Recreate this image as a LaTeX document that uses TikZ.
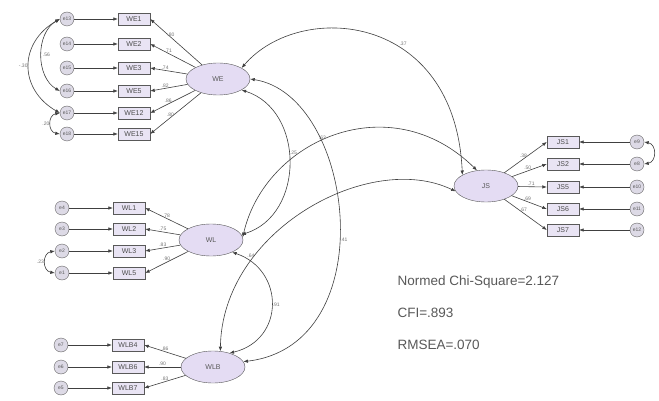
\documentclass[tikz,border=0pt]{standalone}
\usepackage{fontspec}
\setmainfont{Liberation Sans}
\usetikzlibrary{shapes.geometric,arrows.meta}

\definecolor{latfill}{HTML}{E4DCF3}
\definecolor{indfill}{HTML}{E9E4F4}
\definecolor{errfill}{HTML}{DDDAE6}

\begin{document}
\begin{tikzpicture}[
            x=1pt, y=-1pt,
            >={Latex[length=4.5pt,width=3.5pt]},
            lat/.style={draw=black!65, ellipse, fill=latfill, minimum width=64pt, minimum height=32pt, inner sep=0pt, text=black!65, font=\fontsize{7}{8}\selectfont},
            ind/.style={draw=black!65, fill=indfill, minimum width=32pt, minimum height=12.5pt, inner sep=0pt, text=black!70, font=\fontsize{7}{8}\selectfont},
            err/.style={draw=black!60, circle, fill=errfill, minimum size=14pt, inner sep=0pt, text=black!65, font=\fontsize{5}{6}\selectfont},
            arr/.style={->, draw=black!75, line width=0.6pt},
            cov/.style={<->, draw=black!75, line width=0.6pt},
            est/.style={font=\fontsize{5}{6}\selectfont, text=black!55, inner sep=1pt},
            fitidx/.style={anchor=west, text=black!65, font=\fontsize{13.5}{16}\selectfont}
        ]
            \fill[white] (0,0) rectangle (659,401);
            \useasboundingbox (0,0) rectangle (659,401);

            % WE
            \node[lat] (WE) at (218,79) {WE};
            \foreach \n/\y/\e/\v in {WE1/19/e13/.80, WE2/44/e14/.71, WE3/68/e15/.74, WE5/91/e16/.82, WE12/113/e17/.86, WE15/134/e18/.80} {
                \node[ind] (\n) at (134,\y) {\n};
                \node[err] (\e) at (67,\y) {\e};
                \draw[arr] (\e) -- (\n);
                \draw[arr] (WE) -- (\n.east) node[est, pos=0.6, above] {\v};
            }
            \draw[cov] (e13.west) to[bend right=60] node[est, right] {.56} (e16.west);
            \draw[cov] (e13.west) to[bend right=60, looseness=1.3] node[est, left] {-.30} (e17.west);
            \draw[cov] (e17.west) to[bend right=80, looseness=1.5] node[est, left] {.20} (e18.west);

            % WL
            \node[lat] (WL) at (211,240) {WL};
            \foreach \n/\y/\e/\v in {WL1/208/e4/.78, WL2/229/e3/.75, WL3/251/e2/.83, WL5/273/e1/.90} {
                \node[ind] (\n) at (129,\y) {\n};
                \node[err] (\e) at (62,\y) {\e};
                \draw[arr] (\e) -- (\n);
                \draw[arr] (WL) -- (\n.east) node[est, pos=0.5, above] {\v};
            }
            \draw[cov] (e2.west) to[bend right=80, looseness=1.5] node[est, left] {.23} (e1.west);

            % WLB
            \node[lat] (WLB) at (213,367) {WLB};
            \foreach \n/\y/\e/\v in {WLB4/345/e7/.86, WLB6/367/e6/.90, WLB7/388/e5/.83} {
                \node[ind] (\n) at (128,\y) {\n};
                \node[err] (\e) at (61,\y) {\e};
                \draw[arr] (\e) -- (\n);
                \draw[arr] (WLB) -- (\n.east) node[est, pos=0.5, above] {\v};
            }

            % JS
            \node[lat] (JS) at (486,186) {JS};
            \foreach \n/\y/\e/\v in {JS1/142/e9/.38, JS2/164/e8/.50, JS5/187/e10/.71, JS6/209/e11/.69, JS7/230/e12/.67} {
                \node[ind] (\n) at (563,\y) {\n};
                \node[err] (\e) at (637,\y) {\e};
                \draw[arr] (\e) -- (\n);
                \draw[arr] (JS) -- (\n.west) node[est, pos=0.45, above] {\v};
            }
            \draw[cov] (e9.east) to[bend left=80, looseness=1.5] (e8.east);

            % latent correlations
            \draw[cov] (WE.25) .. controls (300,0) and (455,12) .. node[est, pos=0.6, above right] {.37} (JS.155);
            \draw[cov] (WL.5) .. controls (265,140) and (390,85) .. node[est, pos=0.45, above] {.63} (JS.120);
            \draw[cov] (WLB.65) .. controls (222,230) and (370,150) .. node[est, pos=0.3, left] {.64} (JS.190);
            \draw[cov] (WE.-25) .. controls (305,110) and (305,215) .. node[est, pos=0.45, right] {.25} (WL.10);
            \draw[cov] (WE.0) .. controls (355,95) and (385,345) .. node[est, pos=0.55, right] {.41} (WLB.10);
            \draw[cov] (WL.-30) .. controls (285,270) and (285,340) .. node[est, pos=0.5, right] {.91} (WLB.40);

            % fit indices
            \node[fitidx] (chisq) at (394,282) {Normed Chi-Square=2.127};
            \node[fitidx] (cfi) at (394,313) {CFI=.893};
            \node[fitidx] (rmsea) at (394,345) {RMSEA=.070};
        \end{tikzpicture}
\end{document}
